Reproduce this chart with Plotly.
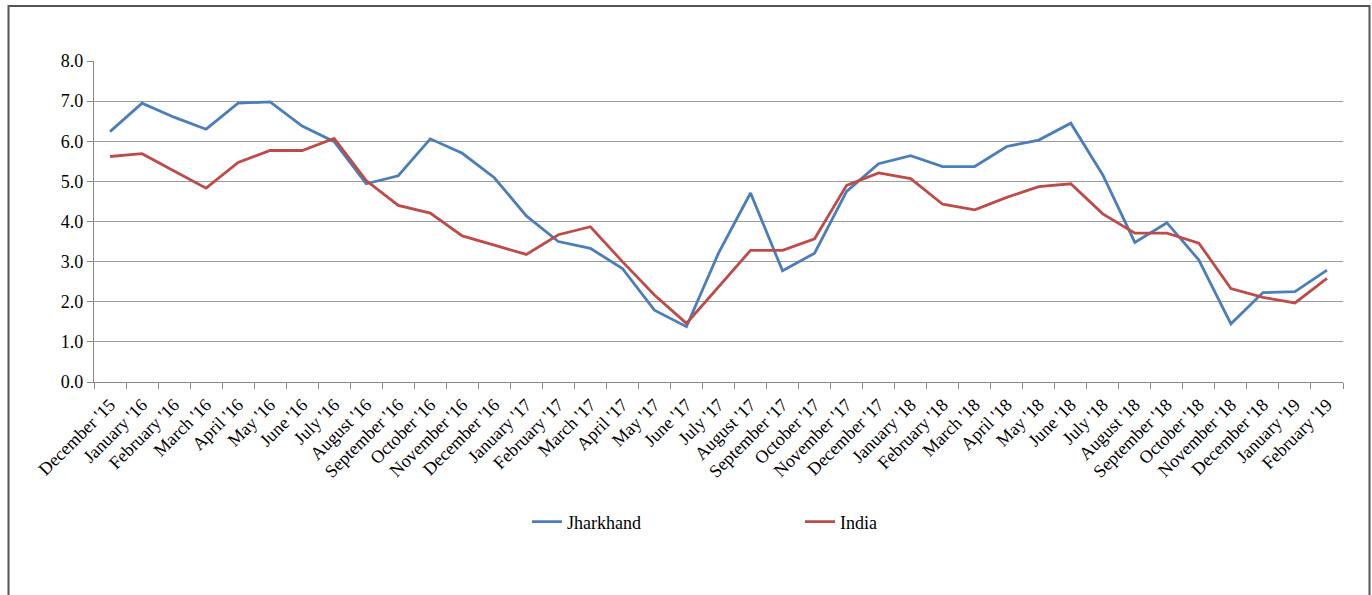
import plotly.graph_objects as go

# Monthly series, December 2015 to February 2019
months = [
    "December '15", "January '16", "February '16", "March '16", "April '16", "May '16",
    "June '16", "July '16", "August '16", "September '16", "October '16", "November '16",
    "December '16", "January '17", "February '17", "March '17", "April '17", "May '17",
    "June '17", "July '17", "August '17", "September '17", "October '17", "November '17",
    "December '17", "January '18", "February '18", "March '18", "April '18", "May '18",
    "June '18", "July '18", "August '18", "September '18", "October '18", "November '18",
    "December '18", "January '19", "February '19",
]

jharkhand = [
    6.24, 6.95, 6.60, 6.30, 6.95, 6.98, 6.38, 5.99, 4.94, 5.14, 6.06, 5.70,
    5.09, 4.14, 3.50, 3.33, 2.83, 1.79, 1.38, 3.21, 4.71, 2.77, 3.21, 4.75,
    5.44, 5.64, 5.37, 5.37, 5.87, 6.03, 6.45, 5.16, 3.48, 3.97, 3.04, 1.45,
    2.23, 2.25, 2.79,
]

india = [
    5.62, 5.69, 5.26, 4.83, 5.47, 5.77, 5.77, 6.07, 5.02, 4.40, 4.21, 3.64,
    3.41, 3.18, 3.67, 3.87, 3.00, 2.17, 1.46, 2.38, 3.28, 3.28, 3.57, 4.90,
    5.21, 5.07, 4.43, 4.29, 4.60, 4.87, 4.94, 4.19, 3.71, 3.71, 3.46, 2.33,
    2.11, 1.97, 2.58,
]

y_ticks = [0, 1, 2, 3, 4, 5, 6, 7, 8]

BLUE = "#4A7EBB"
RED = "#BE4B48"
GRID = "#9c9c9c"
AXIS = "#888888"
FONT = "Liberation Serif, Times New Roman, serif"

fig = go.Figure()
fig.add_trace(go.Scatter(x=months, y=jharkhand, mode="lines", name="Jharkhand",
                         line=dict(color=BLUE, width=2.8)))
fig.add_trace(go.Scatter(x=months, y=india, mode="lines", name="India",
                         line=dict(color=RED, width=2.8)))

W, H = 1372, 595
ML, MR, MT, MB = 94, 29, 61, 213
pw, ph = W - ML - MR, H - MT - MB


def px_x(p):
    return (p - ML) / pw


def px_y(p):
    return (H - MB - p) / ph


fig.update_layout(
    width=W, height=H,
    margin=dict(l=ML, r=MR, t=MT, b=MB),
    paper_bgcolor="white", plot_bgcolor="white",
    font=dict(family=FONT, color="black"),
    showlegend=True,
    legend=dict(
        orientation="h",
        x=px_x(527), y=px_y(522), xanchor="left", yanchor="middle",
        entrywidth=228, entrywidthmode="pixels",
        font=dict(family=FONT, size=18, color="black"),
        bgcolor="rgba(0,0,0,0)",
    ),
    xaxis=dict(
        type="category",
        range=[-0.5, len(months) - 0.5],
        tickson="boundaries",
        ticks="outside", ticklen=6, tickcolor=AXIS,
        showline=True, linecolor=AXIS, linewidth=1.2,
        showgrid=False,
        tickangle=-45,
        ticklabelstandoff=4,
        tickfont=dict(family=FONT, size=18, color="black"),
        fixedrange=True,
    ),
    yaxis=dict(
        range=[0, 8],
        tickvals=y_ticks,
        tickformat=".1f",
        ticks="outside", ticklen=6, tickcolor=AXIS,
        showline=True, linecolor=AXIS, linewidth=1.2,
        showgrid=True, gridcolor=GRID, gridwidth=1.2,
        zeroline=False,
        tickfont=dict(family=FONT, size=18, color="black"),
        fixedrange=True,
    ),
    shapes=[
        # outer frame around the figure
        dict(type="rect", xref="paper", yref="paper",
             x0=px_x(8.5), x1=px_x(1369.5), y0=px_y(640), y1=px_y(6),
             line=dict(color="#555555", width=2), fillcolor="rgba(0,0,0,0)",
             layer="below"),
    ],
)

fig.write_html("out.html")
